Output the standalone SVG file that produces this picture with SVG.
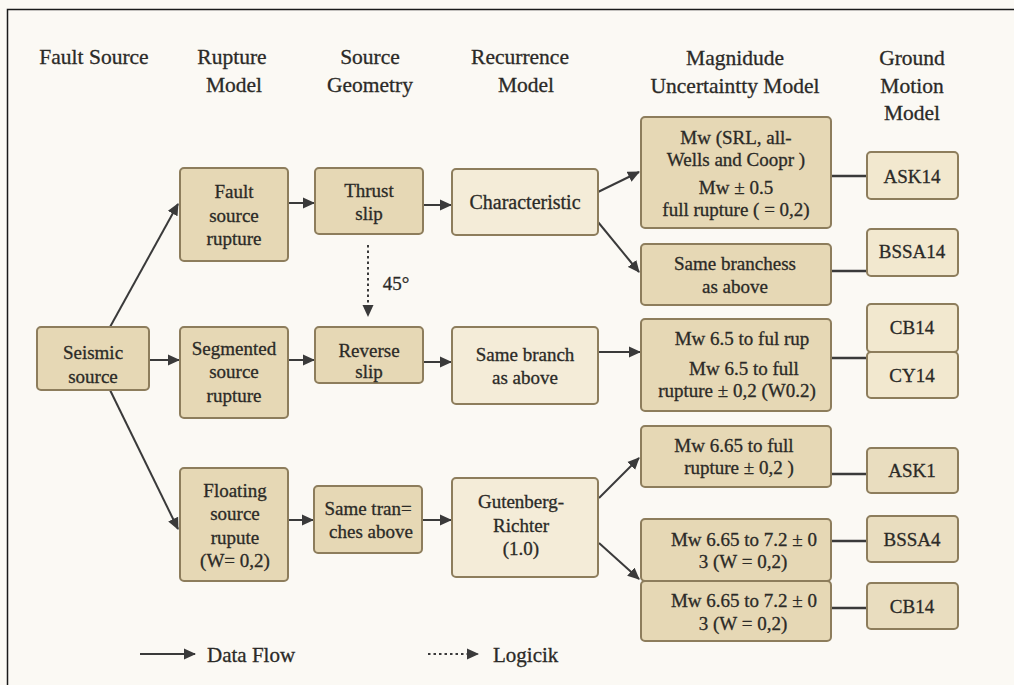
<svg xmlns="http://www.w3.org/2000/svg" width="1014" height="685" viewBox="0 0 1014 685">
<style>
  text { font-family: "Liberation Serif", "DejaVu Serif", serif; fill: #2b2a27; stroke: #2b2a27; stroke-width: 0.3; text-anchor: middle; }
  .hd { font-size: 21.5px; }
  .bt { font-size: 19px; }
  .gt { font-size: 19px; }
  .lg { font-size: 21px; text-anchor: start; }
  .dk { fill: #e6d8b5; stroke: #8d7d5c; stroke-width: 2; }
  .lt { fill: #f4ecd8; stroke: #8d7d5c; stroke-width: 2; }
  .gm { fill: #f2e8cf; stroke: #8d7d5c; stroke-width: 2; }
  .gd { fill: #e9ddbf; stroke: #8d7d5c; stroke-width: 2; }
  .ar { stroke: #3a3a3a; stroke-width: 2; fill: none; marker-end: url(#ah); }
  .ln { stroke: #3a3a3a; stroke-width: 2.5; fill: none; }
  .dt { stroke: #3a3a3a; stroke-width: 2; fill: none; stroke-dasharray: 2.5 3; marker-end: url(#ah); }
</style>
<defs>
  <marker id="ah" viewBox="0 0 12 12" refX="11" refY="6" markerWidth="12" markerHeight="12" markerUnits="userSpaceOnUse" orient="auto">
    <path d="M0,0.5 L12,6 L0,11.5 Z" fill="#3a3a3a"/>
  </marker>
</defs>
<rect x="0" y="0" width="1014" height="685" fill="#fbf9f4"/>
<path d="M7.5,685 L7.5,9.5 L1014,9.5" stroke="#1a1a1a" stroke-width="1.5" fill="none"/>

<g id="headers">
  <text class="hd" x="94" y="64">Fault Source</text>
  <text class="hd" x="232" y="64">Rupture</text>
  <text class="hd" x="234" y="92">Model</text>
  <text class="hd" x="370" y="64">Source</text>
  <text class="hd" x="370" y="92">Geometry</text>
  <text class="hd" x="520" y="64">Recurrence</text>
  <text class="hd" x="526" y="92">Model</text>
  <text class="hd" x="735" y="65">Magnidude</text>
  <text class="hd" x="735" y="93">Uncertaintty Model</text>
  <text class="hd" x="912" y="65">Ground</text>
  <text class="hd" x="912" y="93">Motion</text>
  <text class="hd" x="912" y="120">Model</text>
</g>

<g id="connectors">
  <line class="ar" x1="110" y1="327" x2="178" y2="204"/>
  <line class="ar" x1="149" y1="360" x2="179" y2="360"/>
  <line class="ar" x1="110" y1="390" x2="178" y2="529"/>
  <line class="ar" x1="289" y1="203" x2="314" y2="203"/>
  <line class="ar" x1="289" y1="360" x2="314" y2="360"/>
  <line class="ar" x1="289" y1="520" x2="313" y2="520"/>
  <line class="ar" x1="424" y1="205" x2="451" y2="205"/>
  <line class="ar" x1="424" y1="362" x2="451" y2="362"/>
  <line class="ar" x1="423" y1="520" x2="451" y2="520"/>
  <line class="dt" x1="368" y1="245" x2="368" y2="316"/>
  <text class="bt" x="396" y="290">45°</text>
  <line class="ar" x1="598" y1="192" x2="639" y2="172"/>
  <line class="ar" x1="598" y1="222" x2="639" y2="272"/>
  <line class="ar" x1="598" y1="352" x2="640" y2="352"/>
  <line class="ar" x1="599" y1="498" x2="639" y2="458"/>
  <line class="ar" x1="599" y1="543" x2="639" y2="579"/>
  <line class="ln" x1="831" y1="176" x2="867" y2="176"/>
  <line class="ln" x1="831" y1="271" x2="867" y2="271"/>
  <line class="ln" x1="831" y1="358" x2="867" y2="358"/>
  <line class="ln" x1="831" y1="474" x2="867" y2="474"/>
  <line class="ln" x1="831" y1="541" x2="867" y2="541"/>
  <line class="ln" x1="831" y1="608" x2="867" y2="608"/>
</g>

<g id="seismic-source">
  <rect class="dk" x="37" y="327" width="112" height="63" rx="4"/>
  <text class="bt" x="93" y="359">Seismic</text>
  <text class="bt" x="93" y="383">source</text>
</g>
<g id="fault-source-rupture">
  <rect class="dk" x="180" y="168" width="108" height="93" rx="4"/>
  <text class="bt" x="234" y="198">Fault</text>
  <text class="bt" x="234" y="222">source</text>
  <text class="bt" x="234" y="245">rupture</text>
</g>
<g id="segmented-source-rupture">
  <rect class="dk" x="180" y="327" width="108" height="91" rx="4"/>
  <text class="bt" x="234" y="355">Segmented</text>
  <text class="bt" x="234" y="378">source</text>
  <text class="bt" x="234" y="402">rupture</text>
</g>
<g id="floating-source-rupute">
  <rect class="dk" x="180" y="468" width="108" height="113" rx="4"/>
  <text class="bt" x="235" y="497">Floating</text>
  <text class="bt" x="235" y="520">source</text>
  <text class="bt" x="235" y="544">rupute</text>
  <text class="bt" x="235" y="567">(W= 0,2)</text>
</g>
<g id="thrust-slip">
  <rect class="dk" x="315" y="168" width="108" height="66" rx="4"/>
  <text class="bt" x="369" y="197">Thrust</text>
  <text class="bt" x="369" y="220">slip</text>
</g>
<g id="reverse-slip">
  <rect class="dk" x="315" y="327" width="108" height="56" rx="4"/>
  <text class="bt" x="369" y="357">Reverse</text>
  <text class="bt" x="369" y="378">slip</text>
</g>
<g id="same-tranches">
  <rect class="dk" x="314" y="486" width="108" height="67" rx="4"/>
  <text class="bt" x="368" y="515">Same tran=</text>
  <text class="bt" x="371" y="538">ches above</text>
</g>
<g id="characteristic">
  <rect class="lt" x="452" y="169" width="146" height="66" rx="4"/>
  <text class="bt" x="525" y="209" style="font-size:20px">Characteristic</text>
</g>
<g id="same-branch">
  <rect class="lt" x="452" y="327" width="146" height="77" rx="4"/>
  <text class="bt" x="525" y="361">Same branch</text>
  <text class="bt" x="525" y="384">as above</text>
</g>
<g id="gutenberg-richter">
  <rect class="lt" x="452" y="478" width="146" height="99" rx="4"/>
  <text class="bt" x="521" y="508">Gutenberg-</text>
  <text class="bt" x="521" y="532">Richter</text>
  <text class="bt" x="521" y="555">(1.0)</text>
</g>
<g id="mw-srl">
  <rect class="dk" x="641" y="117" width="190" height="111" rx="4"/>
  <text class="bt" x="736" y="144">Mw (SRL, all-</text>
  <text class="bt" x="736" y="166">Wells and Coopr )</text>
  <text class="bt" x="736" y="194">Mw ± 0.5</text>
  <text class="bt" x="736" y="216">full rupture ( = 0,2)</text>
</g>
<g id="same-branchess">
  <rect class="dk" x="641" y="244" width="190" height="61" rx="4"/>
  <text class="bt" x="735" y="270">Same branchess</text>
  <text class="bt" x="735" y="293">as above</text>
</g>
<g id="mw-65">
  <rect class="dk" x="641" y="319" width="190" height="92" rx="4"/>
  <text class="bt" x="742" y="345">Mw 6.5 to ful rup</text>
  <text class="bt" x="744" y="375">Mw 6.5 to full</text>
  <text class="bt" x="737" y="397">rupture ± 0,2 (W0.2)</text>
</g>
<g id="mw-665-full">
  <rect class="dk" x="641" y="426" width="190" height="61" rx="4"/>
  <text class="bt" x="734" y="452">Mw 6.65 to full</text>
  <text class="bt" x="739" y="474">rupture ± 0,2 )</text>
</g>
<g id="mw-665-72-a">
  <rect class="dk" x="641" y="519" width="190" height="62" rx="4"/>
  <text class="bt" x="744" y="546">Mw 6.65 to 7.2 ± 0</text>
  <text class="bt" x="743" y="568">3 (W = 0,2)</text>
</g>
<g id="mw-665-72-b">
  <rect class="dk" x="641" y="581" width="190" height="60" rx="4"/>
  <text class="bt" x="744" y="607">Mw 6.65 to 7.2 ± 0</text>
  <text class="bt" x="743" y="630">3 (W = 0,2)</text>
</g>
<g id="ask14">
  <rect class="gm" x="867" y="152" width="91" height="47" rx="4"/>
  <text class="gt" x="912" y="183">ASK14</text>
</g>
<g id="bssa14">
  <rect class="gm" x="867" y="229" width="91" height="47" rx="4"/>
  <text class="gt" x="912" y="258">BSSA14</text>
</g>
<g id="cb14-top">
  <rect class="gm" x="867" y="304" width="91" height="48" rx="4"/>
  <text class="gt" x="912" y="334">CB14</text>
</g>
<g id="cy14">
  <rect class="gm" x="867" y="352" width="91" height="46" rx="4"/>
  <text class="gt" x="912" y="382">CY14</text>
</g>
<g id="ask1">
  <rect class="gd" x="867" y="448" width="91" height="45" rx="4"/>
  <text class="gt" x="912" y="477">ASK1</text>
</g>
<g id="bssa4">
  <rect class="gd" x="867" y="516" width="91" height="46" rx="4"/>
  <text class="gt" x="912" y="546">BSSA4</text>
</g>
<g id="cb14-bottom">
  <rect class="gd" x="867" y="583" width="91" height="46" rx="4"/>
  <text class="gt" x="912" y="613">CB14</text>
</g>

<g id="legend">
  <line class="ar" x1="140" y1="654" x2="195" y2="654"/>
  <text class="lg" x="207" y="662">Data Flow</text>
  <line class="dt" x1="428" y1="654" x2="478" y2="654"/>
  <text class="lg" x="493" y="662">Logicik</text>
</g>
</svg>
